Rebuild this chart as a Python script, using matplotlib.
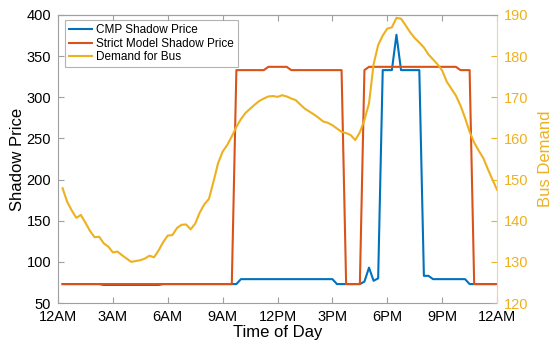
import numpy as np
import matplotlib.pyplot as plt

plt.rcParams['font.family'] = ['Liberation Sans', 'DejaVu Sans']

# time of day in hours, 15 minute steps
hours = np.arange(1, 97) * 0.25

cmp_price = [
    73, 73, 73, 73, 73, 73, 73, 73, 73, 72, 72, 72,
    72, 72, 72, 72, 72, 72, 72, 72, 72, 72, 73, 73,
    73, 73, 73, 73, 73, 73, 73, 73, 73, 73, 73, 73,
    73, 73, 73, 79, 79, 79, 79, 79, 79, 79, 79, 79,
    79, 79, 79, 79, 79, 79, 79, 79, 79, 79, 79, 79,
    73, 73, 73, 73, 73, 73, 76, 93, 77, 80, 333, 333,
    333, 376, 333, 333, 333, 333, 333, 83, 83, 79, 79, 79,
    79, 79, 79, 79, 79, 73, 73, 73, 73, 73, 73, 73,
]

strict_price = [
    73, 73, 73, 73, 73, 73, 73, 73, 73, 73, 73, 73,
    73, 73, 73, 73, 73, 73, 73, 73, 73, 73, 73, 73,
    73, 73, 73, 73, 73, 73, 73, 73, 73, 73, 73, 73,
    73, 73, 333, 333, 333, 333, 333, 333, 333, 337, 337, 337,
    337, 337, 333, 333, 333, 333, 333, 333, 333, 333, 333, 333,
    333, 333, 73, 73, 73, 73, 333, 337, 337, 337, 337, 337,
    337, 337, 337, 337, 337, 337, 337, 337, 337, 337, 337, 337,
    337, 337, 337, 333, 333, 333, 73, 73, 73, 73, 73, 73,
]

demand = [
    147.9, 144.6, 142.5, 140.7, 141.4, 139.5, 137.5, 136.0, 136.1, 134.5, 133.7, 132.3,
    132.5, 131.6, 130.8, 130.0, 130.2, 130.4, 130.8, 131.5, 131.1, 132.8, 134.8, 136.4,
    136.5, 138.2, 139.0, 139.1, 137.9, 139.3, 142.0, 144.0, 145.3, 149.5, 154.0, 156.8,
    158.4, 160.5, 162.8, 164.7, 166.2, 167.2, 168.2, 169.1, 169.7, 170.2, 170.3, 170.1,
    170.5, 170.2, 169.7, 169.3, 168.2, 167.2, 166.5, 165.8, 165.0, 164.1, 163.8, 163.2,
    162.4, 161.6, 161.3, 160.8, 159.6, 161.5, 164.5, 168.5, 178.0, 182.7, 185.0, 186.7,
    187.0, 189.3, 189.1, 187.5, 185.8, 184.4, 183.3, 182.1, 180.4, 179.2, 178.0, 176.5,
    173.8, 172.1, 170.4, 168.0, 165.0, 161.6, 159.0, 157.0, 155.2, 152.5, 150.0, 147.5,
]

tick_hours = [0, 3, 6, 9, 12, 15, 18, 21, 24]
tick_labels = ['12AM', '3AM', '6AM', '9AM', '12PM', '3PM', '6PM', '9PM', '12AM']

blue = '#0072BD'
red = '#D95319'
yellow = '#EDB120'
grey = '#A0A0A0'

fig = plt.figure(figsize=(5.6, 3.43), dpi=100)
ax = fig.add_axes([0.1036, 0.1166, 0.784, 0.8397])
ax2 = ax.twinx()

l1, = ax.plot(hours, cmp_price, color=blue, lw=1.5, label='CMP Shadow Price')
l2, = ax.plot(hours, strict_price, color=red, lw=1.5, label='Strict Model Shadow Price')
l3, = ax2.plot(hours, demand, color=yellow, lw=1.5, label='Demand for Bus')

ax.set_xlim(0, 24)
ax.set_ylim(50, 400)
ax2.set_ylim(120, 190)
ax.set_xticks(tick_hours)
ax.set_xticklabels(tick_labels)

ax.tick_params(direction='in', labelsize=10.5, color=grey, top=True, length=4, pad=5)
ax2.tick_params(direction='in', labelsize=10.5, colors=yellow, length=4, pad=5)

for s in ['left', 'bottom', 'top']:
    ax.spines[s].set_color(grey)
ax.spines['right'].set_visible(False)
ax2.spines['left'].set_visible(False)
ax2.spines['top'].set_color(grey)
ax2.spines['bottom'].set_visible(False)
ax2.spines['right'].set_color('#F4D48C')

ax.set_xlabel('Time of Day', fontsize=12, labelpad=1)
ax.set_ylabel('Shadow Price', fontsize=12, labelpad=1)
ax2.set_ylabel('Bus Demand', fontsize=12, color=yellow, labelpad=7)

leg = ax2.legend(handles=[l1, l2, l3], loc='upper left', bbox_to_anchor=(0.016, 0.982),
                 fontsize=8.5, frameon=True, fancybox=False, borderpad=0.35,
                 handlelength=1.9, handletextpad=0.35, labelspacing=0.12, borderaxespad=0)
leg.get_frame().set_edgecolor(grey)
leg.get_frame().set_linewidth(0.8)

plt.savefig('out.png', dpi=100)
